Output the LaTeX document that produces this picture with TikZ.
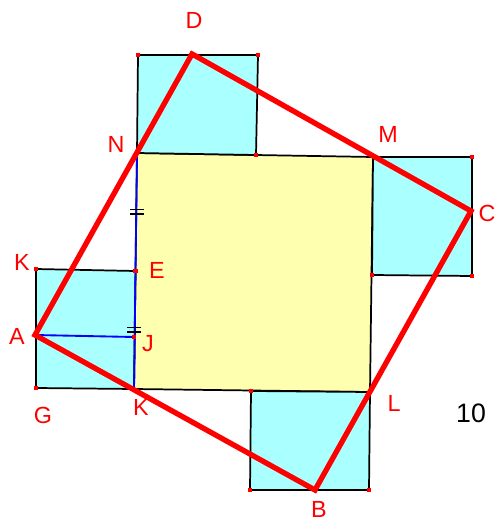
\documentclass[tikz,border=0pt]{standalone}
\usepackage{fontspec}
\setmainfont{Liberation Sans}
\definecolor{cyanfill}{RGB}{170,255,255}
\definecolor{yelfill}{RGB}{255,255,176}
\definecolor{redline}{RGB}{255,0,0}
\begin{document}
\begin{tikzpicture}[x=0.75pt,y=-0.75pt,
  sq/.style={draw=black,line width=1.3pt,fill=cyanfill},
  ctr/.style={draw=black,line width=1.3pt,fill=yelfill},
  blueln/.style={draw=blue,line width=1.4pt},
  redln/.style={draw=redline,line width=4pt,line join=miter},
  lab/.style={text=redline,font=\fontsize{17.5}{17.5}\selectfont,inner sep=0pt},
  dot/.style={fill=redline,inner sep=0pt,minimum size=3.5pt},
  tick/.style={draw=black,line width=1pt}]
\useasboundingbox (0,0) rectangle (495,520);
% points
\coordinate (N) at (137,153);
\coordinate (Q) at (373,157);
\coordinate (R) at (370,392);
\coordinate (Kb) at (134,389);
\coordinate (E) at (135.5,271);
\coordinate (J) at (134,337);
\coordinate (Kt) at (36,269);
\coordinate (G) at (36,388);
\coordinate (A) at (35,335);
\coordinate (T1) at (138,55);
\coordinate (T2) at (258,55);
\coordinate (T3) at (256,155);
\coordinate (D) at (192,54);
\coordinate (S1) at (472,157);
\coordinate (S2) at (472,276);
\coordinate (S3) at (372,275);
\coordinate (C) at (471,211);
\coordinate (B1) at (251,391);
\coordinate (B2) at (369,490);
\coordinate (B3) at (250,490);
\coordinate (B) at (315,490);
% central square
\path[ctr] (N) -- (Q) -- (R) -- (Kb) -- cycle;
% side squares
\path[sq] (T1) -- (T2) -- (T3) -- (N) -- cycle;
\path[sq] (Q) -- (S1) -- (S2) -- (S3) -- cycle;
\path[sq] (Kt) -- (E) -- (Kb) -- (G) -- cycle;
\path[sq] (B1) -- (R) -- (B2) -- (B3) -- cycle;
% blue segments
\draw[blueln] (N) -- (Kb);
\draw[blueln] (A) -- (J);
% ticks
\draw[tick] (130,209.5) -- (144,209.5) (130,214) -- (144,214);
\draw[tick] (127,327.5) -- (141,327.5) (127,332) -- (141,332);
% red square
\draw[redln] (A) -- (D) -- (C) -- (B) -- cycle;
% dots
\foreach \p in {T1,T2,T3,S1,S2,S3,Kt,G,E,J,B1,B2,B3}
  \node[dot] at (\p) {};
% labels
\node[lab] (lD) at (194,20) {D};
\node[lab] (lN) at (116,144) {N};
\node[lab] (lM) at (388,134) {M};
\node[lab] (lC) at (487,213) {C};
\node[lab] (lKt) at (22,262) {K};
\node[lab] (lE) at (157,270) {E};
\node[lab] (lA) at (17,336) {A};
\node[lab] (lJ) at (148,344) {J};
\node[lab] (lG) at (43,415) {G};
\node[lab] (lKb) at (141,407) {K};
\node[lab] (lL) at (394,403) {L};
\node[lab] (lB) at (319,509) {B};
\node[inner sep=0pt,font=\fontsize{20}{20}\selectfont] (ten) at (471,413) {10};
\end{tikzpicture}
\end{document}
